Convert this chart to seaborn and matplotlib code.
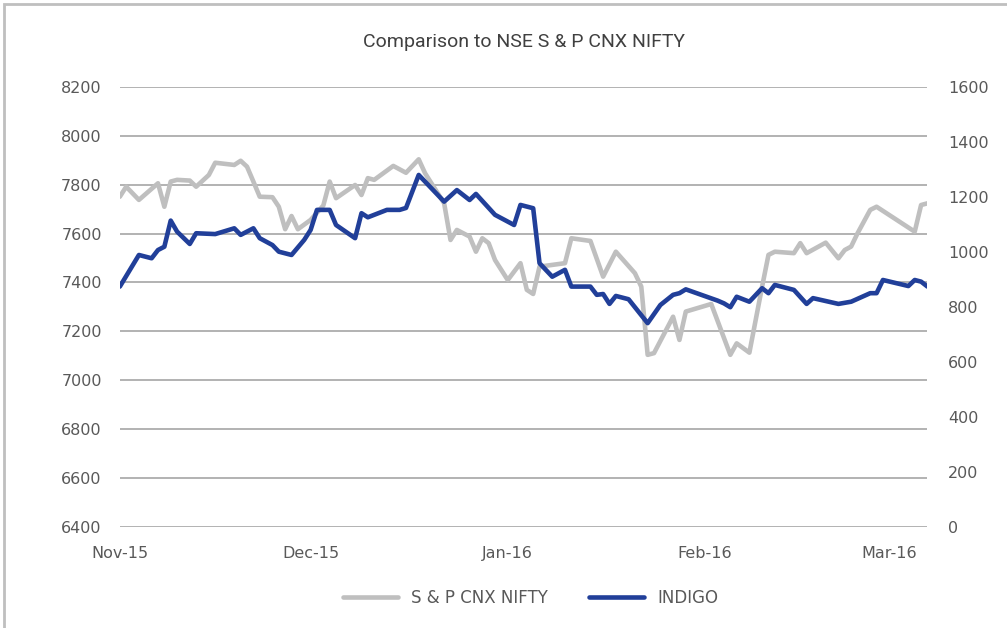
import pandas as pd
import matplotlib
matplotlib.use("Agg")
import matplotlib.pyplot as plt
import matplotlib.dates as mdates
from matplotlib.patches import Rectangle
import seaborn as sns

# S & P CNX NIFTY (left axis)
nifty_dates = [
    "2015-11-01", "2015-11-02", "2015-11-04", "2015-11-07", "2015-11-08", "2015-11-09",
    "2015-11-10", "2015-11-12", "2015-11-13", "2015-11-15", "2015-11-16", "2015-11-19",
    "2015-11-20", "2015-11-21", "2015-11-22", "2015-11-23", "2015-11-25", "2015-11-26",
    "2015-11-27", "2015-11-28", "2015-11-29", "2015-12-01", "2015-12-03", "2015-12-04",
    "2015-12-05", "2015-12-08", "2015-12-09", "2015-12-10", "2015-12-11", "2015-12-14",
    "2015-12-16", "2015-12-18", "2015-12-19", "2015-12-21", "2015-12-22", "2015-12-23",
    "2015-12-24", "2015-12-26", "2015-12-27", "2015-12-28", "2015-12-29", "2015-12-30",
    "2016-01-01", "2016-01-03", "2016-01-04", "2016-01-05", "2016-01-06", "2016-01-10",
    "2016-01-11", "2016-01-14", "2016-01-16", "2016-01-18", "2016-01-21", "2016-01-22",
    "2016-01-23", "2016-01-24", "2016-01-27", "2016-01-28", "2016-01-29", "2016-02-02",
    "2016-02-05", "2016-02-06", "2016-02-08", "2016-02-10", "2016-02-11", "2016-02-12",
    "2016-02-15", "2016-02-16", "2016-02-17", "2016-02-20", "2016-02-22", "2016-02-23",
    "2016-02-24", "2016-02-25", "2016-02-27", "2016-02-28", "2016-03-05", "2016-03-06",
    "2016-03-07",
]
nifty_values = [
    7751, 7792, 7738, 7806, 7710, 7813,
    7820, 7817, 7792, 7840, 7890, 7881,
    7898, 7874, 7813, 7751, 7749, 7710,
    7618, 7672, 7618, 7656, 7715, 7813,
    7745, 7799, 7758, 7827, 7820, 7877,
    7849, 7904, 7847, 7765, 7724, 7574,
    7615, 7588, 7526, 7581, 7561, 7492,
    7410, 7479, 7370, 7353, 7465, 7479,
    7581, 7570, 7424, 7526, 7438, 7383,
    7104, 7111, 7260, 7165, 7281, 7312,
    7104, 7151, 7113, 7383, 7513, 7526,
    7520, 7561, 7520, 7563, 7499, 7533,
    7547, 7601, 7697, 7710, 7608, 7717,
    7724,
]

# INDIGO (right axis)
indigo_dates = [
    "2015-11-01", "2015-11-04", "2015-11-06", "2015-11-07", "2015-11-08", "2015-11-09",
    "2015-11-10", "2015-11-12", "2015-11-13", "2015-11-16", "2015-11-19", "2015-11-20",
    "2015-11-22", "2015-11-23", "2015-11-25", "2015-11-26", "2015-11-28", "2015-11-30",
    "2015-12-01", "2015-12-02", "2015-12-04", "2015-12-05", "2015-12-08", "2015-12-09",
    "2015-12-10", "2015-12-13", "2015-12-15", "2015-12-16", "2015-12-18", "2015-12-22",
    "2015-12-24", "2015-12-26", "2015-12-27", "2015-12-30", "2016-01-02", "2016-01-03",
    "2016-01-05", "2016-01-06", "2016-01-08", "2016-01-10", "2016-01-11", "2016-01-14",
    "2016-01-15", "2016-01-16", "2016-01-17", "2016-01-18", "2016-01-20", "2016-01-23",
    "2016-01-25", "2016-01-27", "2016-01-28", "2016-01-29", "2016-02-03", "2016-02-04",
    "2016-02-05", "2016-02-06", "2016-02-08", "2016-02-10", "2016-02-11", "2016-02-12",
    "2016-02-15", "2016-02-17", "2016-02-18", "2016-02-22", "2016-02-24", "2016-02-27",
    "2016-02-28", "2016-02-29", "2016-03-04", "2016-03-05", "2016-03-06", "2016-03-07",
]
indigo_values = [
    874, 989, 977, 1007, 1019, 1114,
    1074, 1029, 1068, 1065, 1086, 1062,
    1086, 1050, 1025, 1001, 989, 1044,
    1080, 1153, 1153, 1098, 1050, 1141,
    1126, 1153, 1153, 1160, 1280, 1183,
    1225, 1189, 1211, 1135, 1098, 1171,
    1159, 959, 910, 935, 874, 874,
    844, 847, 811, 840, 828, 741,
    807, 844, 850, 864, 823, 813,
    799, 837, 819, 868, 850, 880,
    862, 811, 832, 811, 819, 850,
    850, 898, 876, 898, 892, 874,
]

left_ticks = [6400, 6600, 6800, 7000, 7200, 7400, 7600, 7800, 8000, 8200]
right_ticks = [0, 200, 400, 600, 800, 1000, 1200, 1400, 1600]
month_ticks = ["2015-11-01", "2015-12-01", "2016-01-01", "2016-02-01", "2016-03-01"]

nifty = pd.DataFrame({"date": pd.to_datetime(nifty_dates), "value": nifty_values})
indigo = pd.DataFrame({"date": pd.to_datetime(indigo_dates), "value": indigo_values})

sns.set_theme(style="white")
plt.rcParams["font.family"] = ["DejaVu Sans"]

gray = "#BFBFBF"
blue = "#213F99"
text_col = "#595959"

fig = plt.figure(figsize=(10.07, 6.28), dpi=100)
ax = fig.add_axes([0.119, 0.161, 0.802, 0.7005])
ax2 = ax.twinx()

sns.lineplot(data=nifty, x="date", y="value", ax=ax, color=gray, linewidth=3.3,
             label="S & P CNX NIFTY", legend=False)
sns.lineplot(data=indigo, x="date", y="value", ax=ax2, color=blue, linewidth=3.3,
             label="INDIGO", legend=False)
for a in (ax, ax2):
    for ln in a.get_lines():
        ln.set_solid_joinstyle("round")
        ln.set_solid_capstyle("round")

ax.set_ylim(6400, 8200)
ax.set_yticks(left_ticks)
ax2.set_ylim(0, 1600)
ax2.set_yticks(right_ticks)
ax.set_xlim(pd.Timestamp("2015-11-01"), pd.Timestamp("2016-03-07"))
ax.set_xticks(pd.to_datetime(month_ticks))
ax.xaxis.set_major_formatter(mdates.DateFormatter("%b-%y"))

ax.grid(axis="y", color="#A6A6A6", linewidth=1.2)
ax.grid(axis="x", visible=False)
ax2.grid(False)
for a in (ax, ax2):
    for s in a.spines.values():
        s.set_visible(False)
    a.set_xlabel("")
    a.set_ylabel("")
ax.tick_params(axis="y", length=0, pad=13, labelsize=11.5, labelcolor=text_col)
ax.tick_params(axis="x", length=0, pad=14, labelsize=11.5, labelcolor=text_col)
ax2.tick_params(axis="y", length=0, pad=15, labelsize=11.5, labelcolor=text_col)

fig.text(0.52, 0.933, "Comparison to NSE S & P CNX NIFTY", ha="center", va="center",
         fontsize=14, color="#404040", family=["Roboto", "DejaVu Sans"])

h1, l1 = ax.get_legend_handles_labels()
h2, l2 = ax2.get_legend_handles_labels()
fig.legend(h1 + h2, l1 + l2, loc="center", bbox_to_anchor=(0.527, 0.048), ncol=2,
           frameon=False, fontsize=12, handlelength=3.3, columnspacing=2.5,
           labelcolor=text_col)

# chart frame, only top/left edges visible in the crop
fig.patches.append(Rectangle((0.004, -0.05), 1.2, 1.043, transform=fig.transFigure,
                             fill=False, edgecolor="#BFBFBF", linewidth=2))

fig.savefig("out.png", dpi=100)
